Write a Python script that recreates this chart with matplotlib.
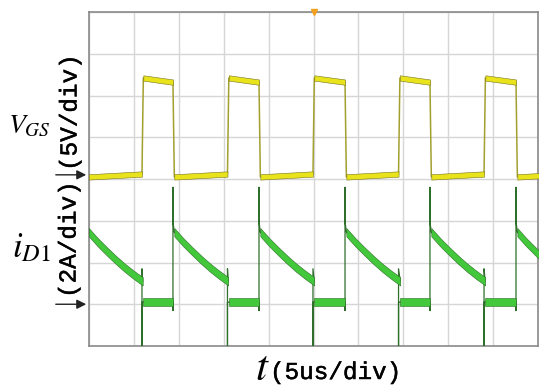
import numpy as np
import matplotlib
matplotlib.use('Agg')
import matplotlib.pyplot as plt
import matplotlib.patheffects as pe

plt.rcParams['mathtext.fontset'] = 'stix'

# ---------------- data ----------------
# time in us (5 us/div, 10 div)
t_on = [5.90, 15.42, 24.94, 34.47, 43.99, 53.51]          # VGS rising edge / diode turn-off
t_off = [-0.17, 9.35, 18.93, 28.51, 37.97, 47.55]         # VGS falling edge / diode turn-on

# gate-source voltage levels (V)
vgs_low_start = -0.25
vgs_low_end = 0.10
vgs_high_start = 11.6
vgs_high_end = 11.1

# diode current (A)
id_decay_dt = [0.0, 1.0, 2.0, 3.0, 4.0, 5.0, 6.0]          # us after diode turn-on
id_decay = [3.45, 2.97, 2.54, 2.13, 1.75, 1.41, 1.10]
id_flat = 0.10
id_spike_on = 5.6
id_spike_under = -0.3
id_spike_off = -2.5

x_label = '(5us/div)'
vgs_label = '(5V/div)'
id_label = '(2A/div)'

# ---------------- styles ----------------
EDGE = 0.15          # us, edge width
V_HALF = 0.32        # V, half-thickness of VGS band
I_HALF = 0.20        # A, half-thickness of iD band
Y_FILL, Y_EDGE, Y_LINE = '#e9e31c', '#77741c', '#a3a030'
G_FILL, G_EDGE, G_LINE = '#42c83a', '#2a6e24', '#2f6f2b'
THICK = [pe.withStroke(linewidth=0.35, foreground='#111111')]

fig = plt.figure(figsize=(5.5, 3.92), dpi=100)
L, B = 89 / 550, 1 - 346 / 392
W, H = 449 / 550, 334 / 392
ax = fig.add_axes([L, B, W, H])
ax.set_xlim(0, 50)
ax.set_ylim(0, 8)
ax.set_xticks(np.arange(0, 51, 5))
ax.set_yticks(np.arange(0, 9, 1))
ax.grid(True, color='#d6d6d6', lw=1.0)
ax.tick_params(length=0, labelbottom=False, labelleft=False)
for s in ax.spines.values():
    s.set_color('#8a8a8a')
    s.set_linewidth(1.2)

ax1 = ax.twinx()   # VGS
ax1.set_ylim(-4.1 * 5, 3.9 * 5)
ax2 = ax.twinx()   # iD
ax2.set_ylim(-1.0 * 2, 7.0 * 2)
for a in (ax1, ax2):
    a.set_xlim(0, 50)
    a.axis('off')

# ---- VGS ----
vx, vy = [], []
for k in range(len(t_on)):
    vx += [t_off[k] + EDGE, t_on[k]]
    vy += [vgs_low_start, vgs_low_end]
    ax1.fill_between([t_off[k] + EDGE, t_on[k]],
                     [vgs_low_start - V_HALF, vgs_low_end - V_HALF],
                     [vgs_low_start + V_HALF, vgs_low_end + V_HALF],
                     facecolor=Y_FILL, edgecolor=Y_EDGE, lw=0.4, zorder=2)
    if k + 1 < len(t_off):
        vx += [t_on[k] + EDGE, t_off[k + 1]]
        vy += [vgs_high_start, vgs_high_end]
        ax1.fill_between([t_on[k] + EDGE, t_off[k + 1]],
                         [vgs_high_start - V_HALF, vgs_high_end - V_HALF],
                         [vgs_high_start + V_HALF, vgs_high_end + V_HALF],
                         facecolor=Y_FILL, edgecolor=Y_EDGE, lw=0.4, zorder=2)
ax1.plot(vx, vy, color=Y_LINE, lw=1.1, zorder=1)

# ---- iD ----
ix, iy = [], []
for k in range(len(t_off)):
    dx = [t_off[k] + EDGE + d for d in id_decay_dt]
    ix += [t_off[k], t_off[k], t_off[k]] + dx
    iy += [id_spike_under, id_spike_on, id_decay[0] + 0.5] + id_decay
    ax2.fill_between(dx, [v - I_HALF for v in id_decay], [v + I_HALF for v in id_decay],
                     facecolor=G_FILL, edgecolor=G_EDGE, lw=0.4, zorder=2)
    if k < len(t_on):
        nxt = t_off[k + 1] if k + 1 < len(t_off) else 60
        ix += [t_on[k], t_on[k], t_on[k], t_on[k] + EDGE, nxt]
        iy += [id_decay[-1] + 0.6, id_spike_off, id_flat, id_flat, id_flat]
        ax2.fill_between([t_on[k] + EDGE, nxt], [id_flat - I_HALF] * 2, [id_flat + I_HALF] * 2,
                         facecolor=G_FILL, edgecolor=G_EDGE, lw=0.4, zorder=2)
ax2.plot(ix, iy, color=G_LINE, lw=0.9, zorder=1)

# trigger marker
ax.plot([25], [8], marker='v', color='#f2a01e', ms=5, clip_on=False, zorder=10)

# reference arrows
for yv in (4.1, 1.0):
    ax.annotate('', xy=(0, yv), xytext=(-36, 0), textcoords='offset pixels',
                arrowprops=dict(arrowstyle='-|>', color='#222222', lw=1.0, mutation_scale=14),
                annotation_clip=False)

# labels
fig.text(8 / 550, 1 - 133 / 392, r'$V_{GS}$', fontsize=20, ha='left', va='baseline')
fig.text(12 / 550, 1 - 257 / 392, r'$i_{D1}$', fontsize=25, ha='left', va='baseline')
fig.text(70 / 550, 1 - 113 / 392, vgs_label, rotation=90, family='Liberation Mono',
         fontsize=17.5, ha='center', va='center', path_effects=THICK)
fig.text(69 / 550, 1 - 240 / 392, id_label, rotation=90, family='Liberation Mono',
         fontsize=17.5, ha='center', va='center', path_effects=THICK)
fig.text(270 / 550, 1 - 380 / 392, r'$t$', fontsize=31, ha='right', va='baseline')
fig.text(270 / 550, 1 - 379 / 392, x_label, family='Liberation Mono',
         fontsize=17.5, ha='left', va='baseline', path_effects=THICK)

fig.savefig('out.png', dpi=100)
